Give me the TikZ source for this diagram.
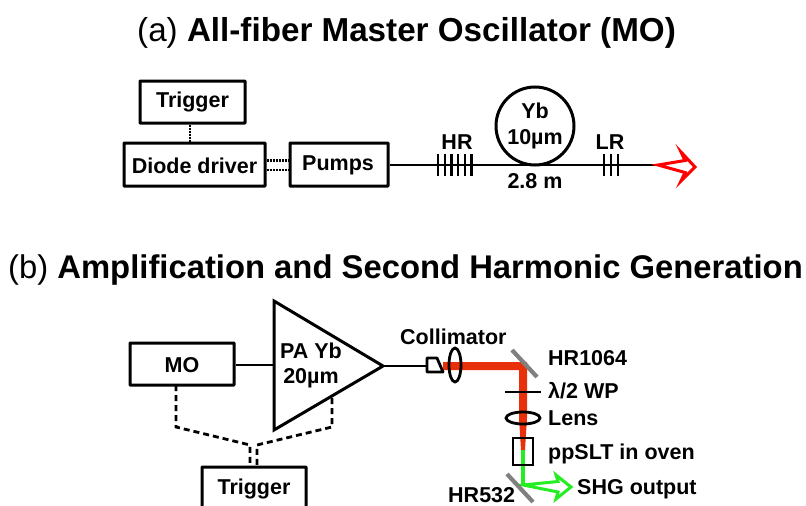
\documentclass[tikz,border=0pt]{standalone}
\usepackage{fontspec}
\setmainfont{Liberation Sans}
\usetikzlibrary{calc}
\definecolor{beam}{HTML}{E8300A}
\definecolor{mirror}{HTML}{808080}
\definecolor{gbeam}{HTML}{22EE22}
\tikzset{
  box/.style={draw,line width=3pt,inner sep=0pt,rounded corners=0.5pt},
  lbl/.style={inner sep=0pt,font=\fontsize{21.5}{25}\selectfont\bfseries,align=center},
  title/.style={inner sep=0pt,anchor=base west,font=\fontsize{33}{36}\selectfont},
  fiber/.style={line width=2.6pt},
  ctl/.style={line width=2.8pt,dash pattern=on 6pt off 4pt},
  ctls/.style={line width=2.2pt,dash pattern=on 2.2pt off 0.8pt},
  tick/.style={line width=2.3pt},
  optic/.style={line width=2.8pt},
  mir/.style={line width=4.2pt,color=mirror},
}
\begin{document}
\begin{tikzpicture}[x=1pt,y=-1pt]
\useasboundingbox (0,0) rectangle (806,506);
\node[title,font=\fontsize{33.2}{36}\selectfont] (ta) at (137,41) {(a) \textbf{All-fiber Master Oscillator (MO)}};
\node[title,font=\fontsize{32.8}{36}\selectfont] (tb) at (8,278) {(b) \textbf{Amplification and Second Harmonic Generation}};
% (a)
\node[box,minimum width=105pt,minimum height=42pt] (trigA) at (192.5,102) {};
\node[lbl] (trigAt) at (192.5,102) {Trigger};
\node[box,minimum width=141pt,minimum height=43pt] (diode) at (194.5,164.5) {};
\node[lbl] (diodet) at (194.5,166) {Diode driver};
\node[box,minimum width=98pt,minimum height=43pt] (pumps) at (339,164.5) {};
\node[lbl] (pumpst) at (338,165) {Pumps};
\draw[ctls] (trigA.south -| 190,0) -- (diode.north -| 190,0);
\draw[ctls] (diode.east |- 0,160.5) -- (pumps.west |- 0,160.5);
\draw[ctls] (diode.east |- 0,170) -- (pumps.west |- 0,170);
\coordinate (fe) at (658,165);
\draw[fiber] (pumps.east |- fe) -- (fe);
\node[draw,circle,line width=3pt,minimum size=78pt,inner sep=0pt] (yb) at (535,126) {};
\node[lbl] (ybt) at (535,125.5) {Yb\\[1pt]10µm};
\foreach \x in {438,445,451.5,458,465,471.5} \draw[tick] (\x,154) -- (\x,176);
\foreach \x in {604,611,618} \draw[tick] (\x,154) -- (\x,176);
\node[lbl] (hr) at (457,142) {HR};
\node[lbl] (lr) at (610,142) {LR};
\node[lbl] (len) at (535,181) {2.8 m};
\draw[red,line width=3pt,fill=white,line join=miter] (fe) -- (685,160.5) -- (681,152) -- (695,167) -- (681,181) -- (685,172.5) -- cycle;
% (b)
\node[box,minimum width=104pt,minimum height=42pt] (mo) at (182,364) {};
\node[lbl] (mot) at (182,365) {MO};
\coordinate (pa1) at (274,301);
\coordinate (pa2) at (274,430);
\coordinate (pa3) at (383,366);
\draw[line width=3pt,line join=miter] (pa1) -- (pa2) -- (pa3) -- cycle;
\node[lbl] (pa) at (311,365.5) {PA Yb\\20µm};
\draw[fiber] (mo.east |- 0,365) -- (pa1 |- 0,365);
\coordinate (cl) at (427,366);
\draw[fiber] (pa3) -- (cl);
\node[box,minimum width=104pt,minimum height=50pt] (trigB) at (254,492) {};
\node[lbl] (trigBt) at (254,488.5) {Trigger};
\draw[ctl] (176,385) -- (176,427) -- (250,445) -- (250,467);
\draw[ctl] (332,398) -- (332,427) -- (257,445) -- (257,467);
% beam
\fill[beam] (443,362) -- (527,362) -- (527,418) -- (525,450) -- (521,450) -- (519,418) -- (519,370) -- (443,370) -- cycle;
\draw[gbeam,line width=3.4pt] (523,450) -- (523,485);
\draw[gbeam,line width=3pt,fill=white,line join=miter] (523,485) -- (558,481.5) -- (556,475) -- (571,487) -- (556,499) -- (558,492) -- cycle;
% optics
\draw[optic,fill=white,line join=round] (427,358) -- (437,358) -- (443,372) -- (427,372) -- cycle;
\draw[optic] (455,365) ellipse [x radius=6,y radius=17];
\draw[mir] (512,350) -- (537,377);
\draw[optic] (505,392) -- (541,392);
\draw[optic] (523,418) ellipse [x radius=17,y radius=6];
\draw[optic] (513,438) rectangle (533,465);
\draw[mir] (507,474) -- (533,502);
\node[lbl,anchor=base west] (coll) at (400,344) {Collimator};
\node[lbl,anchor=base west] (hr1064) at (548,365.5) {HR1064};
\node[lbl,anchor=base west] (wp) at (548,398) {λ/2 WP};
\node[lbl,anchor=base west] (lens) at (548,425) {Lens};
\node[lbl,anchor=base west] (slt) at (548,459) {ppSLT in oven};
\node[lbl,anchor=base west] (shg) at (577,494) {SHG output};
\node[lbl,anchor=base west] (hr532) at (448,502) {HR532};
\end{tikzpicture}
\end{document}
